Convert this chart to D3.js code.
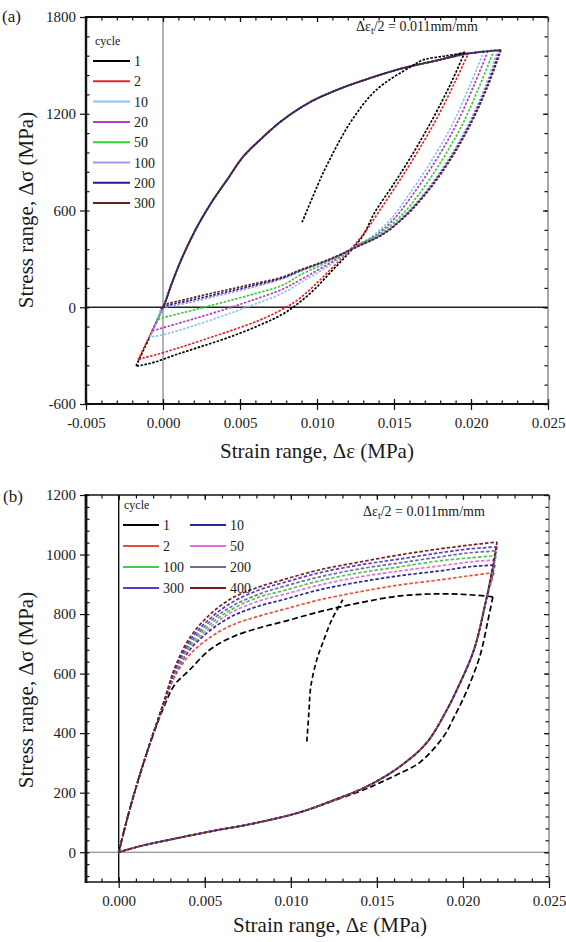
<!DOCTYPE html>
<html><head><meta charset="utf-8">
<script src="https://cdn.jsdelivr.net/npm/d3@7"></script>
<style>
body{margin:0;background:#fff}
text{font-family:"Liberation Serif","Times New Roman","DejaVu Serif",serif;fill:#1a1a1a}
</style>
</head><body>
<svg id="chart" width="566" height="942"></svg>
<script>
// ================= DATA: panel (a) =================
const cyclesA = ["1","2","10","20","50","100","200","300"];
const colorsA = ["#000000","#e0242c","#8cc4ee","#b23ccc","#36d036","#9a9af0","#1e1e8c","#5c2424"];
// common loading (upper) branch from the origin: [strain, stress MPa]
const upperA = [[0,0],[0.00058,150],[0.00123,305],[0.00221,498],[0.00325,665],[0.00416,790],[0.00519,932],[0.0063,1038],[0.00779,1162],[0.00955,1272],[0.0113,1348],[0.01279,1400],[0.01539,1478],[0.01799,1535],[0.0196,1570]];
const peaksA = [[0.0196,1583],[0.01987,1583],[0.02084,1589],[0.0211,1589],[0.0215,1595],[0.02175,1595],[0.02188,1595],[0.02195,1595]];
const minsA = [[-0.00175,-364],[-0.00162,-326],[-0.00084,-184],[-0.00071,-147],[-0.00039,-79],[-0.0002,-29],[-0.00013,-11],[-0.00006,0]];
// unloading (lower) branches, peak -> minimum
const unloadA1 = [[0.01864,1378],[0.01747,1161],[0.01617,944],[0.01494,758],[0.01377,591],[0.01295,440],[0.01182,311],[0.01084,213],[0.00987,114],[0.0089,33],[0.00779,-42],[0.0063,-110],[0.00435,-184],[0.0024,-246],[0.00078,-296],[-0.00052,-340],[-0.0013,-358]];
const unloadA2 = [[0.01896,1397],[0.01779,1173],[0.01649,957],[0.01526,771],[0.01409,603],[0.01312,467],[0.01214,355],[0.01117,262],[0.01006,157],[0.0089,57],[0.00779,-11],[0.0063,-79],[0.00435,-147],[0.0024,-209],[0.00078,-259],[-0.00052,-296],[-0.0013,-315]];
const unloadA10 = [[0.01994,1378],[0.01877,1130],[0.01747,913],[0.01617,727],[0.01474,541],[0.01344,430],[0.01266,386],[0.01084,262],[0.0089,150],[0.00779,88],[0.00565,8],[0.0037,-60],[0.00175,-122],[-0.00006,-172]];
const unloadA20 = [[0.0202,1378],[0.01903,1130],[0.01773,913],[0.01643,727],[0.01506,554],[0.01377,442],[0.01266,386],[0.01084,274],[0.0089,169],[0.00779,113],[0.00565,39],[0.0037,-23],[0.00175,-79],[-0.00006,-129]];
const unloadA50 = [[0.02058,1378],[0.01942,1130],[0.01812,913],[0.01682,727],[0.01539,560],[0.01396,448],[0.01266,386],[0.01084,287],[0.0089,200],[0.00779,138],[0.00565,76],[0.0037,26],[0.00175,-23],[-0.00006,-67]];
const unloadA100 = [[0.02097,1378],[0.01981,1130],[0.01851,913],[0.01714,727],[0.01571,572],[0.01422,454],[0.01266,380],[0.01084,295],[0.0089,222],[0.00779,178],[0.00565,120],[0.0037,75],[0.00175,30],[-0.00006,-10]];
const unloadA200 = [[0.02107,1378],[0.0199,1130],[0.0186,913],[0.01722,727],[0.01578,572],[0.01428,454],[0.0127,380],[0.01084,297],[0.0089,227],[0.00779,183],[0.00565,130],[0.0037,85],[0.00175,42],[0.0,2]];
const unloadA300 = [[0.02112,1378],[0.01995,1130],[0.01865,913],[0.01727,727],[0.01583,572],[0.01432,454],[0.01272,380],[0.01084,299],[0.0089,231],[0.00779,188],[0.00565,140],[0.0037,98],[0.00175,55],[0.0,10]];
const unloadsA = [unloadA1,unloadA2,unloadA10,unloadA20,unloadA50,unloadA100,unloadA200,unloadA300];
const initialA = [[0.00903,527],[0.01019,789],[0.01058,869],[0.01214,1142],[0.01383,1346],[0.01604,1489],[0.01688,1533],[0.01831,1558],[0.0196,1577]];
const xTicksA = [-0.005,0,0.005,0.010,0.015,0.020,0.025];
const yTicksA = [-600,0,600,1200,1800];

// ================= DATA: panel (b) =================
const cyclesB = ["1","2","10","50","100","200","300","400"];
const colorsB = ["#000000","#e8503a","#2a2a90","#e070e0","#4cc84c","#6c6c9c","#5a3ac8","#7a1c1c"];
const upperB_strain = [0,0.00064,0.00151,0.00256,0.00326,0.00413,0.00529,0.00663,0.0082,0.00953,0.01169,0.01401,0.01634,0.01866,0.02041];
const upperB1 = [0,144,312,479,563,613,680,724,754,774,808,838,861,868,865];
const upperB2 = [0,144,312,486,590,664,721,764,794,815,848,875,898,915,929];
const upperB10 = [0,144,312,489,597,680,744,794,828,848,882,908,929,945,959];
const upperB50 = [0,144,312,489,600,687,754,808,845,865,898,925,945,962,975];
const upperB100 = [0,144,312,493,603,694,764,818,858,878,912,939,959,979,989];
const upperB200 = [0,144,312,493,607,701,774,828,868,892,925,952,972,992,1006];
const upperB300 = [0,144,312,493,613,711,784,841,882,905,939,965,985,1006,1019];
const upperB400 = [0,144,312,493,620,721,798,855,892,915,949,975,999,1019,1032];
const uppersB = [upperB1,upperB2,upperB10,upperB50,upperB100,upperB200,upperB300,upperB400];
const peaksB = [[0.02174,858],[0.0218,939],[0.02186,965],[0.02186,982],[0.02192,996],[0.02192,1012],[0.02198,1026],[0.02198,1042]];
// unloading band shared by cycles 2..400 (after their peaks), down to the origin
const lowerB = [[0.02134,845],[0.02064,680],[0.01965,546],[0.01907,479],[0.01791,369],[0.01634,288],[0.01442,221],[0.01244,174],[0.01052,134],[0.00762,94],[0.0057,74],[0.00279,40],[0.00122,20],[0,0]];
const lowerB1 = [[0.02145,778],[0.02099,660],[0.02023,543],[0.01953,459],[0.01884,386],[0.0175,302],[0.01634,265],[0.01535,238],[0.01442,214],[0.01244,172],[0.01052,134],[0.00762,94],[0.0057,74],[0.00279,40],[0.00122,20],[0,0]];
const initialB = [[0.01093,372],[0.01105,469],[0.01116,556],[0.01151,647],[0.01186,704],[0.01238,781],[0.01302,848]];
const xTicksB = [0,0.005,0.010,0.015,0.020,0.025];
const yTicksB = [0,200,400,600,800,1000,1200];

// ================= DRAW =================
const svg = d3.select("#chart");
const FONT = '"Liberation Serif","Times New Roman","DejaVu Serif",serif';
const fmtX = d => d3.format(".3f")(d).replace("\u2212","-");
const fmtY = d => d3.format("d")(d).replace("\u2212","-");
const range = (a,b,s) => { const r=[]; for(let v=a; v<=b+s*1e-6; v+=s) r.push(+v.toFixed(6)); return r; };

function frame(x, y, xMaj, xMin, yMaj, yMin, lw) {
  const [L,R] = x.range(), [B,T] = y.range();
  const g = svg.append("g");
  const style = sel => { sel.attr("font-family",FONT); sel.select(".domain").remove(); sel.selectAll("line").attr("stroke","#111").attr("stroke-width",1.2); sel.selectAll("text").attr("font-size",15).attr("fill","#222"); };
  g.append("g").attr("transform",`translate(0,${B})`).call(d3.axisBottom(x).tickValues(xMaj).tickSize(6).tickPadding(7).tickFormat(fmtX)).call(style);
  g.append("g").attr("transform",`translate(0,${B})`).call(d3.axisBottom(x).tickValues(xMaj).tickSize(-5).tickFormat("")).call(style);
  g.append("g").attr("transform",`translate(0,${B})`).call(d3.axisBottom(x).tickValues(xMin).tickSize(-3.5).tickFormat("")).call(style);
  g.append("g").attr("transform",`translate(0,${T})`).call(d3.axisTop(x).tickValues(xMin).tickSize(-3.5).tickFormat("")).call(style);
  g.append("g").attr("transform",`translate(0,${T})`).call(d3.axisTop(x).tickValues(xMaj).tickSize(-5).tickFormat("")).call(style);
  g.append("g").attr("transform",`translate(${L},0)`).call(d3.axisLeft(y).tickValues(yMaj).tickSize(6).tickPadding(4).tickFormat(fmtY)).call(style);
  g.append("g").attr("transform",`translate(${L},0)`).call(d3.axisLeft(y).tickValues(yMin).tickSize(-3.5).tickFormat("")).call(style);
  g.append("g").attr("transform",`translate(${R},0)`).call(d3.axisRight(y).tickValues(yMin).tickSize(-3.5).tickFormat("")).call(style);
  g.append("g").attr("transform",`translate(${R},0)`).call(d3.axisRight(y).tickValues(yMaj).tickSize(-5).tickFormat("")).call(style);
  g.append("line").attr("x1",L).attr("x2",R).attr("y1",T).attr("y2",T).attr("stroke","#111").attr("stroke-width",lw.top);
  g.append("line").attr("x1",R).attr("x2",R).attr("y1",T).attr("y2",B).attr("stroke","#555").attr("stroke-width",1);
  g.append("line").attr("x1",L).attr("x2",R).attr("y1",B).attr("y2",B).attr("stroke","#111").attr("stroke-width",lw.bottom);
  g.append("line").attr("x1",L).attr("x2",L).attr("y1",T-1).attr("y2",B+1).attr("stroke","#111").attr("stroke-width",lw.left);
}

function titles(cx, cy, ty) {
  svg.append("text").attr("x",cx).attr("y",ty).attr("text-anchor","middle").attr("font-size",21).text("Strain range, \u0394\u03b5 (MPa)");
  svg.append("text").attr("transform",`translate(${33},${cy}) rotate(-90)`).attr("text-anchor","middle").attr("font-size",21).text("Stress range, \u0394\u03c3 (MPa)");
}

function annotation(xp, yp) {
  const t = svg.append("text").attr("x",xp).attr("y",yp).attr("font-size",14);
  t.append("tspan").text("\u0394\u03b5");
  t.append("tspan").attr("dy",3).attr("font-size",10).text("t");
  t.append("tspan").attr("dy",-3).text("/2 = 0.011mm/mm");
}

const lineGen = (x,y) => d3.line().x(d=>x(d[0])).y(d=>y(d[1])).curve(d3.curveCatmullRom.alpha(0.5));

// ---------- panel (a) ----------
const xA = d3.scaleLinear().domain([-0.005,0.025]).range([86,548]);
const yA = d3.scaleLinear().domain([-600,1800]).range([404,17]);
svg.append("line").attr("x1",86).attr("x2",548).attr("y1",yA(0)).attr("y2",yA(0)).attr("stroke","#222").attr("stroke-width",1.3);
svg.append("line").attr("x1",xA(0)).attr("x2",xA(0)).attr("y1",17).attr("y2",404).attr("stroke","#666").attr("stroke-width",1);
const lA = lineGen(xA,yA);
const gA = svg.append("g").attr("fill","none").attr("stroke-width",1.7).attr("stroke-dasharray","2.5,1.5");
cyclesA.forEach((c,i) => {
  const pk = peaksA[i], mn = minsA[i];
  const up = [mn, ...upperA.filter(p => p[0] < pk[0]-0.0002), pk];
  const down = [pk, ...unloadsA[i], mn];
  gA.append("path").attr("d",lA(up)).attr("stroke",colorsA[i]);
  gA.append("path").attr("d",lA(down)).attr("stroke",colorsA[i]);
});
gA.append("path").attr("d",lA(initialA)).attr("stroke","#000");
frame(xA,yA,xTicksA,range(-0.005,0.025,0.001),yTicksA,range(-600,1800,120),{top:2,bottom:2.2,left:2.4});
titles(317,210,458);
svg.append("text").attr("x",2).attr("y",22).attr("font-size",17).text("(a)");
annotation(356,31);
const legA = svg.append("g");
legA.append("text").attr("x",95).attr("y",45).attr("font-size",12).text("cycle");
cyclesA.forEach((c,i) => {
  const yy = 61 + i*20.3;
  legA.append("line").attr("x1",93).attr("x2",130).attr("y1",yy).attr("y2",yy).attr("stroke",colorsA[i]).attr("stroke-width",2);
  legA.append("text").attr("x",134).attr("y",yy+5).attr("font-size",14).text(c);
});

// ---------- panel (b) ----------
const xB = d3.scaleLinear().domain([-0.0019,0.025]).range([86,549]);
const yB = d3.scaleLinear().domain([-100,1200]).range([882,495]);
svg.append("line").attr("x1",86).attr("x2",549).attr("y1",yB(0)).attr("y2",yB(0)).attr("stroke","#777").attr("stroke-width",1.2);
svg.append("line").attr("x1",xB(0)).attr("x2",xB(0)).attr("y1",495).attr("y2",882).attr("stroke","#111").attr("stroke-width",1.4);
const lB = lineGen(xB,yB);
const gB = svg.append("g").attr("fill","none").attr("stroke-width",1.7);
cyclesB.forEach((c,i) => {
  const pk = peaksB[i];
  const up = [...upperB_strain.map((s,k)=>[s,uppersB[i][k]]), pk];
  const down = [pk, ...(i===0 ? lowerB1 : lowerB)];
  const dash = i===0 ? "6,3" : "3.5,2";
  gB.append("path").attr("d",lB(up)).attr("stroke",colorsB[i]).attr("stroke-dasharray",dash);
  gB.append("path").attr("d",lB(down)).attr("stroke",colorsB[i]).attr("stroke-dasharray",dash);
});
gB.append("path").attr("d",lB(initialB)).attr("stroke","#000").attr("stroke-dasharray","5,3");
frame(xB,yB,xTicksB,range(-0.001,0.025,0.001),yTicksB,range(-80,1200,40),{top:1.6,bottom:1.6,left:2.8});
titles(330,690,932);
svg.append("text").attr("x",3).attr("y",502).attr("font-size",17).text("(b)");
annotation(363,516);
const legB = svg.append("g");
legB.append("text").attr("x",124).attr("y",509).attr("font-size",12).text("cycle");
const rowsB = [["1","10"],["2","50"],["100","200"],["300","400"]];
rowsB.forEach((row,r) => {
  const yy = 525 + r*21;
  row.forEach((lab,cIdx) => {
    const i = cyclesB.indexOf(lab);
    const x0 = cIdx===0 ? 123 : 190;
    legB.append("line").attr("x1",x0).attr("x2",x0+36).attr("y1",yy).attr("y2",yy).attr("stroke",colorsB[i]).attr("stroke-width",2);
    legB.append("text").attr("x",x0+40).attr("y",yy+5).attr("font-size",14).text(lab);
  });
});
</script>
</body></html>
